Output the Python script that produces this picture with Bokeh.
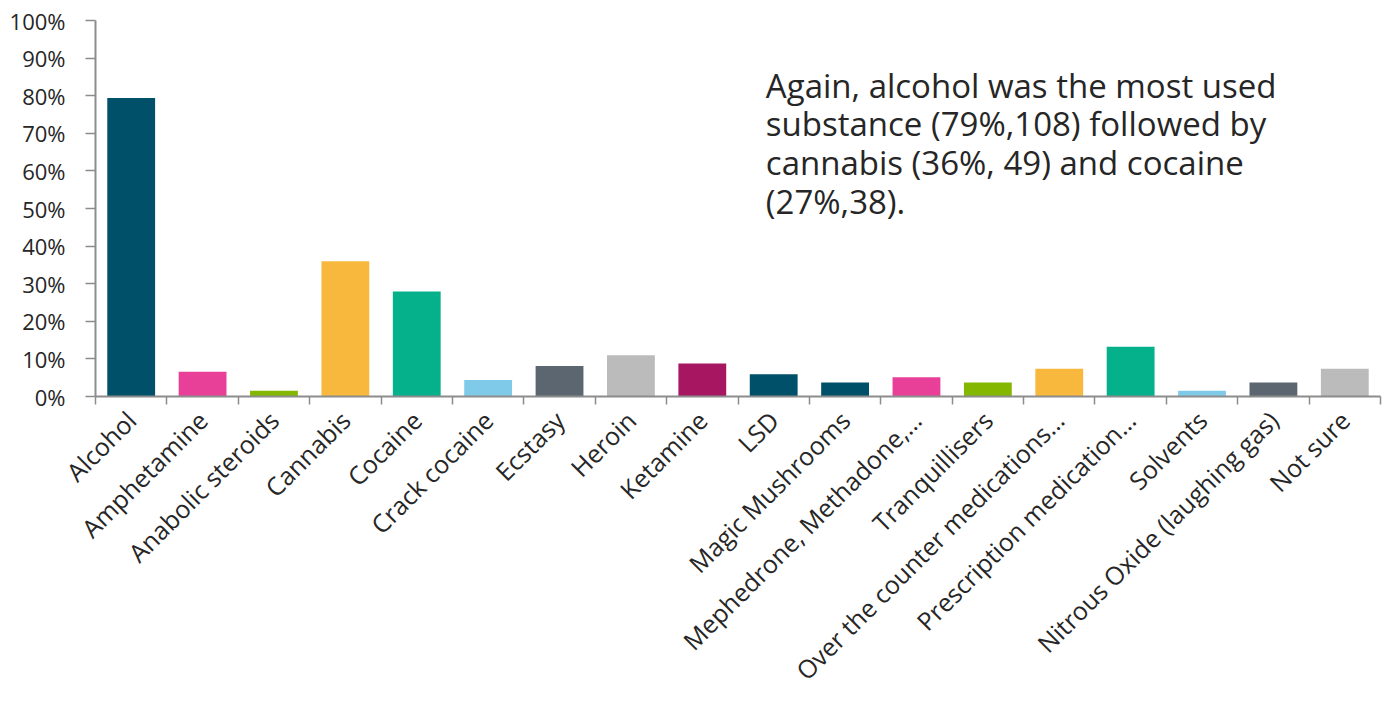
from bokeh.plotting import figure
from bokeh.models import ColumnDataSource, Range1d, FixedTicker, NumeralTickFormatter, Label
from bokeh.embed import file_html
from bokeh.resources import INLINE

categories = ["Alcohol", "Amphetamine", "Anabolic steroids", "Cannabis", "Cocaine",
              "Crack cocaine", "Ecstasy", "Heroin", "Ketamine", "LSD", "Magic Mushrooms",
              "Mephedrone, Methadone,\u2026", "Tranquillisers", "Over the counter medications\u2026",
              "Prescription medication\u2026", "Solvents", "Nitrous Oxide (laughing gas)", "Not sure"]
values = [0.794, 0.066, 0.015, 0.360, 0.279, 0.044, 0.081, 0.110, 0.088, 0.059,
          0.037, 0.051, 0.037, 0.074, 0.132, 0.015, 0.037, 0.074]
colors = ["#005069", "#E84098", "#84B800", "#F8B83E", "#04B18A", "#80CAE9", "#5C6670",
          "#BBBBBB", "#A71761", "#005069", "#005069", "#E84098", "#84B800", "#F8B83E",
          "#04B18A", "#80CAE9", "#5C6670", "#BBBBBB"]
y_ticks = [0.0, 0.1, 0.2, 0.3, 0.4, 0.5, 0.6, 0.7, 0.8, 0.9, 1.0]
note = ("Again, alcohol was the most used\nsubstance (79%,108) followed by\n"
        "cannabis (36%, 49) and cocaine\n(27%,38).")

n = len(categories)
positions = list(range(n))
source = ColumnDataSource(dict(x=positions, top=values, color=colors, name=categories))

FONT = "Open Sans"
TXT = "#262626"
AX = "#8c8c8c"

p = figure(width=1388, height=713, output_backend="svg", toolbar_location=None,
           x_range=Range1d(-0.5, n - 0.5), y_range=Range1d(0, 1.0),
           min_border_left=95, min_border_right=8, min_border_top=20, min_border_bottom=317)
p.outline_line_color = None
p.xgrid.grid_line_color = None
p.ygrid.grid_line_color = None
p.background_fill_color = "white"
p.border_fill_color = "white"

p.vbar(x="x", top="top", width=0.67, fill_color="color", line_color=None, source=source)

# x axis
xa = p.xaxis[0]
xa.ticker = FixedTicker(ticks=positions, minor_ticks=[i - 0.5 for i in range(n + 1)])
xa.major_label_overrides = {i: c for i, c in enumerate(categories)}
xa.major_label_orientation = 0.785398
xa.major_tick_line_color = None
xa.major_tick_out = 0
xa.minor_tick_in = 0
xa.minor_tick_out = 8
xa.minor_tick_line_color = AX
xa.minor_tick_line_width = 1.5
xa.axis_line_color = AX
xa.axis_line_width = 2
xa.major_label_text_font = FONT
xa.major_label_text_font_size = "25px"
xa.major_label_text_color = TXT
xa.major_label_standoff = 11

# y axis
ya = p.yaxis[0]
ya.ticker = FixedTicker(ticks=y_ticks)
ya.formatter = NumeralTickFormatter(format="0%")
ya.minor_tick_line_color = None
ya.major_tick_in = 0
ya.major_tick_out = 10
ya.major_tick_line_color = AX
ya.major_tick_line_width = 1.5
ya.axis_line_color = AX
ya.axis_line_width = 2
ya.major_label_text_font = FONT
ya.major_label_text_font_size = "22px"
ya.major_label_text_color = TXT
ya.major_label_standoff = 20

p.add_layout(Label(x=8.89, y=0.888, text=note, text_align="left", text_baseline="top",
                   text_font=FONT, text_font_size="33px", text_color=TXT,
                   text_line_height=0.86))

open("out.html", "w").write(file_html(p, INLINE))
